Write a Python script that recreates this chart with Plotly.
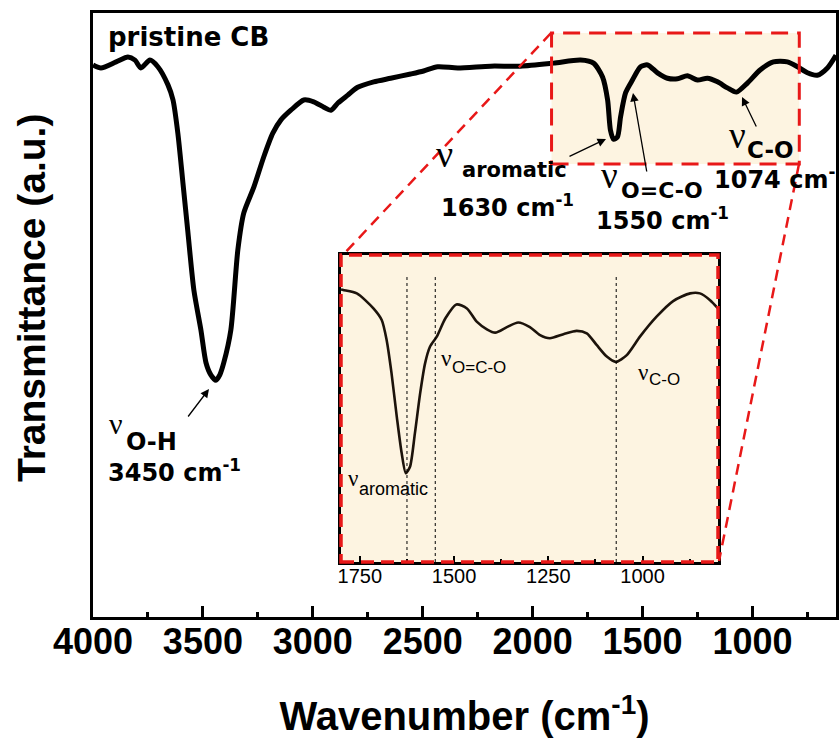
import plotly.graph_objects as go

# ---------------- data ----------------
main_wavenumber = [4000, 3964, 3895, 3841, 3809, 3782, 3741, 3705, 3659, 3636, 3614, 3591, 3568, 3541,
                   3509, 3486, 3464, 3441, 3423, 3405, 3373, 3341, 3314, 3268, 3223, 3182, 3145, 3100,
                   3041, 2996, 2950, 2918, 2886, 2841, 2796, 2723, 2646, 2555, 2496, 2432, 2341, 2191,
                   2055, 1905, 1782, 1723, 1682, 1659, 1646, 1632, 1614, 1600, 1577, 1546, 1509, 1477,
                   1432, 1387, 1341, 1296, 1250, 1205, 1159, 1114, 1073, 1023, 964, 905, 841, 795,
                   750, 705, 659, 620]
main_transmittance = [91.4, 90.9, 91.9, 92.7, 92.2, 90.9, 92.2, 91.1, 88.1, 85.6, 80.1, 71.9, 63.6, 54.1,
                      47.5, 42.1, 40.1, 39.2, 40.1, 42.1, 47.5, 60.8, 66.9, 71.2, 76.2, 80.1, 82.3, 83.9,
                      85.6, 85.3, 84.4, 83.9, 85.1, 86.4, 87.7, 88.6, 89.2, 89.9, 90.4, 91.1, 90.9, 91.2,
                      91.2, 91.7, 92.2, 91.7, 89.4, 85.6, 80.6, 79.1, 79.5, 82.8, 86.8, 88.9, 91.1, 91.4,
                      90.1, 89.2, 89.1, 89.6, 88.9, 89.2, 88.6, 87.6, 86.9, 88.4, 90.6, 91.9, 91.9, 91.1,
                      90.1, 89.7, 90.9, 93.0]

inset_wavenumber = [1800, 1794, 1758, 1714, 1692, 1679, 1666, 1652, 1639, 1628, 1617, 1604, 1590, 1577,
                    1564, 1546, 1523, 1494, 1466, 1440, 1413, 1391, 1360, 1330, 1299, 1272, 1246, 1210,
                    1175, 1148, 1122, 1095, 1071, 1042, 1007, 963, 919, 874, 848, 821, 800]
inset_transmittance = [88.8, 88.6, 87.5, 82.6, 78.8, 72.3, 61.5, 47.3, 35.4, 28.9, 31.0, 41.9, 55.0, 64.7,
                       70.1, 73.4, 79.4, 83.9, 82.6, 78.3, 75.8, 74.7, 76.5, 78.0, 76.5, 73.9, 72.9, 74.2,
                       75.3, 74.5, 70.7, 66.9, 65.2, 67.4, 73.4, 79.9, 85.0, 87.5, 87.5, 85.3, 82.6]

main_tick_vals = [4000, 3500, 3000, 2500, 2000, 1500, 1000]
inset_tick_vals = [1750, 1500, 1250, 1000]
inset_peak_lines = [1625, 1550, 1070]
zoom_box_x = [1914, 787]
zoom_box_y = [75.0, 96.7]

# ---------------- layout helpers ----------------
W, H = 839, 739
L, R, T, B = 93, 836, 13, 617


def px(x):
    return (x - L) / (R - L)


def py(y):
    return (B - y) / (B - T)


RED = "rgb(232,24,24)"
CREAM = "#FDF4E1"
BOLD = "DejaVu Sans"
SANS = "Liberation Sans"
SERIF = "Liberation Serif"

fig = go.Figure()

fig.add_trace(go.Scatter(x=main_wavenumber, y=main_transmittance, mode="lines",
                         line=dict(color="black", width=5, shape="spline", smoothing=0.7),
                         xaxis="x", yaxis="y", showlegend=False, hoverinfo="skip"))
fig.add_trace(go.Scatter(x=inset_wavenumber, y=inset_transmittance, mode="lines",
                         line=dict(color="#1c130b", width=2.6, shape="spline", smoothing=0.7),
                         xaxis="x2", yaxis="y2", showlegend=False, hoverinfo="skip"))

shapes = []
# highlighted region in main plot
shapes.append(dict(type="rect", xref="x", yref="y", x0=zoom_box_x[0], x1=zoom_box_x[1],
                   y0=zoom_box_y[0], y1=zoom_box_y[1], fillcolor=CREAM, line=dict(width=0), layer="below"))
shapes.append(dict(type="rect", xref="x", yref="y", x0=zoom_box_x[0], x1=zoom_box_x[1],
                   y0=zoom_box_y[0], y1=zoom_box_y[1], fillcolor="rgba(0,0,0,0)",
                   line=dict(color=RED, width=3, dash="17px,9px"), layer="above"))
# inset background
shapes.append(dict(type="rect", xref="paper", yref="paper", x0=px(341), x1=px(718), y0=py(562), y1=py(255),
                   fillcolor=CREAM, line=dict(width=0), layer="below"))
# dotted peak lines in inset
for v in inset_peak_lines:
    shapes.append(dict(type="line", xref="x2", yref="y2", x0=v, x1=v, y0=0, y1=93.5,
                       line=dict(color="black", width=1, dash="3px,3px"), layer="above"))
# red dashed border of inset
shapes.append(dict(type="rect", xref="paper", yref="paper", x0=px(341), x1=px(718), y0=py(562), y1=py(255),
                   fillcolor="rgba(0,0,0,0)", line=dict(color=RED, width=3.5, dash="13px,7px"), layer="above"))
# connecting lines
shapes.append(dict(type="line", xref="paper", yref="paper", x0=px(551), y0=py(33), x1=px(342), y1=py(256),
                   line=dict(color=RED, width=2.5, dash="11px,7px"), layer="above"))
shapes.append(dict(type="line", xref="paper", yref="paper", x0=px(799), y0=py(164), x1=px(719), y1=py(561),
                   line=dict(color=RED, width=2.5, dash="11px,7px"), layer="above"))


def txt(s, x, y, size, family, bold=False):
    return dict(text=s, x=px(x), y=py(y), xref="paper", yref="paper", xanchor="left", yanchor="middle",
                showarrow=False,
                font=dict(size=size, family=family, color="black", weight="bold" if bold else "normal"))


def arrow(tail, head):
    return dict(text="", x=px(head[0]), y=py(head[1]), xref="paper", yref="paper",
                ax=tail[0] - head[0], ay=tail[1] - head[1], showarrow=True,
                arrowhead=2, arrowsize=1.3, arrowwidth=1.3, arrowcolor="black", standoff=0)


annotations = [
    # y-axis title
    dict(text="Transmittance (a.u.)", x=px(31), y=py(298), xref="paper", yref="paper",
         xanchor="center", yanchor="middle", textangle=-90, showarrow=False,
         font=dict(family=SANS, size=39, color="black", weight="bold")),
    txt("pristine CB", 106, 37, 26, BOLD, True),
    # O-H
    txt("ν", 107, 423, 30, SERIF),
    txt("O-H", 124, 442, 24, BOLD, True),
    txt("3450 cm<sup>-1</sup>", 106, 471, 24, BOLD, True),
    # aromatic
    txt("ν", 434, 154, 38, SERIF),
    txt("aromatic", 460, 170, 21, BOLD, True),
    txt("1630 cm<sup>-1</sup>", 439, 206, 24, BOLD, True),
    # O=C-O
    txt("ν", 599, 175, 37, SERIF),
    txt("O=C-O", 619, 190, 22, BOLD, True),
    txt("1550 cm<sup>-1</sup>", 594, 219, 24, BOLD, True),
    # C-O
    txt("ν", 727, 135, 37, SERIF),
    txt("C-O", 745, 150, 23, BOLD, True),
    txt("1074 cm<sup>-1</sup>", 712, 178, 24, BOLD, True),
    # inset labels
    txt("ν", 346, 478, 23, SERIF),
    txt("aromatic", 357, 489, 18, SANS),
    txt("ν", 439, 358, 23, SERIF),
    txt("O=C-O", 450, 367, 17, SANS),
    txt("ν", 636, 373, 23, SERIF),
    txt("C-O", 647, 379, 17, SANS),
    # arrows
    arrow((187, 418), (209, 389)),
    arrow((568, 157), (606, 139)),
    arrow((647, 173), (633, 93)),
    arrow((757, 128), (742, 97)),
]

fig.update_layout(
    width=W, height=H,
    margin=dict(l=L, r=W - R, t=T, b=H - B, pad=0, autoexpand=False),
    paper_bgcolor="white", plot_bgcolor="rgba(0,0,0,0)",
    showlegend=False,
    shapes=shapes, annotations=annotations,
    xaxis=dict(domain=[0, 1], range=[4000, 620], tickvals=main_tick_vals,
               ticks="inside", ticklen=11, tickwidth=2.5, tickcolor="black",
               minor=dict(dtick=250, ticks="inside", ticklen=5, tickwidth=2.5, tickcolor="black"),
               showline=True, linecolor="black", linewidth=2.5, mirror=True,
               showgrid=False, zeroline=False, ticklabelstandoff=-9,
               tickfont=dict(family=SANS, size=36, color="black", weight="bold"),
               title=dict(text="Wavenumber (cm<sup>-1</sup>)", standoff=42,
                          font=dict(family=SANS, size=40, color="black", weight="bold"))),
    yaxis=dict(domain=[0, 1], range=[0, 100], showticklabels=False, ticks="",
               showline=True, linecolor="black", linewidth=2.5, mirror=True,
               showgrid=False, zeroline=False),
    xaxis2=dict(domain=[px(341), px(718)], anchor="y2", range=[1800, 800], tickvals=inset_tick_vals,
                ticks="inside", ticklen=6, tickwidth=2, tickcolor="black",
                minor=dict(dtick=125, ticks="inside", ticklen=3, tickwidth=1.5, tickcolor="black"),
                showline=True, linecolor="black", linewidth=2.5, mirror=True,
                showgrid=False, zeroline=False, ticklabelstandoff=-6,
                tickfont=dict(family=SANS, size=20, color="black")),
    yaxis2=dict(domain=[py(562), py(255)], anchor="x2", range=[0, 100], showticklabels=False, ticks="",
                showline=True, linecolor="black", linewidth=2.5, mirror=True,
                showgrid=False, zeroline=False),
)

fig.write_html("out.html", config={"displayModeBar": False},
               post_script="document.body.style.margin='0px';")
